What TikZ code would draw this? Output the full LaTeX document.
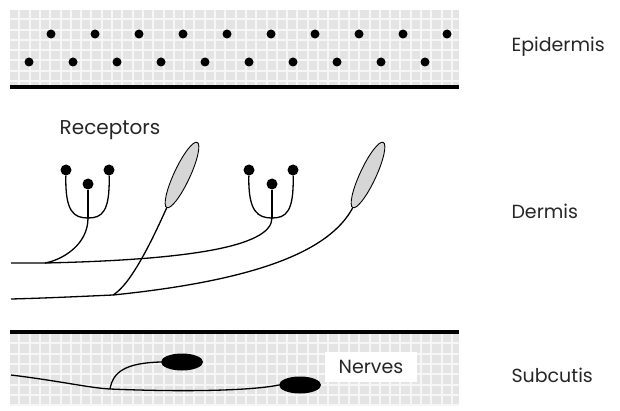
\documentclass[tikz,border=0pt]{standalone}
\usepackage{fontspec}
\setmainfont{Poppins}
\usetikzlibrary{shapes.geometric}

\definecolor{cellgray}{HTML}{E4E4E4}
\definecolor{gridline}{HTML}{F6F6F6}
\definecolor{bulbgray}{HTML}{D6D6D6}
\definecolor{ink}{HTML}{262626}

\tikzset{
  label text/.style={font=\fontsize{19}{22}\selectfont, text=ink},
  layer/.style={label text, anchor=west},
  granule/.style={circle, fill=black, inner sep=0pt, minimum size=9pt},
  ending/.style={circle, fill=black, inner sep=0pt, minimum size=11pt},
  bulb/.style={ellipse, draw, line width=0.9pt, fill=bulbgray, inner sep=0pt,
    minimum width=72pt, minimum height=16pt, rotate=65},
  ganglion/.style={ellipse, fill=black, inner sep=0pt, minimum width=42pt, minimum height=17pt},
  fibre/.style={line width=1.3pt},
  border/.style={line width=3.5pt}
}

\begin{document}
\begin{tikzpicture}[x=1pt, y=1pt]
  \useasboundingbox (0,0) rectangle (620,410);

  % checkered bands
  \foreach \ylo/\yhi in {325/400, 4/76} {
    \begin{scope}
      \clip (10,\ylo) rectangle (459,\yhi);
      \fill[cellgray] (10,\ylo) rectangle (459,\yhi);
      \foreach \k in {0,...,44}
        \draw[gridline, line width=2pt] (19.3+10.3*\k,\ylo) -- (19.3+10.3*\k,\yhi);
      \foreach \k in {0,...,8}
        \draw[gridline, line width=2pt] (10,\yhi-9.3-10.3*\k) -- (459,\yhi-9.3-10.3*\k);
    \end{scope}
  }
  \draw[border] (10,323) -- (459,323);
  \draw[border] (10,78) -- (459,78);

  % epidermis granules
  \foreach \k in {0,...,9} {
    \node[granule] (up\k) at (51+44*\k,376) {};
    \node[granule] (lo\k) at (29+44*\k,348) {};
  }

  \node[label text, font=\fontsize{20}{24}\selectfont] (receptors) at (110,280) {Receptors};

  % free nerve endings
  \node[ending] (a1) at (66,240) {};
  \node[ending] (a2) at (88,226) {};
  \node[ending] (a3) at (109,240) {};
  \coordinate (afoot) at (88,192);
  \node[ending] (b1) at (249,240) {};
  \node[ending] (b2) at (272,226) {};
  \node[ending] (b3) at (293,240) {};
  \coordinate (bfoot) at (272,192);

  % lamellar corpuscles
  \node[bulb] (pac1) at (182,235) {};
  \node[bulb] (pac2) at (368,235) {};

  \coordinate (in1) at (11,147);
  \coordinate (join1) at (45,147);
  \coordinate (in2) at (11,111);
  \coordinate (join2) at (113,115);

  \begin{scope}[fibre]
    \draw (a1) .. controls (65,198) and (74,192) .. (afoot)
          .. controls (102,192) and (110,198) .. (a3);
    \draw (a2) -- (afoot);
    \draw (b1) .. controls (248,198) and (258,192) .. (bfoot)
          .. controls (286,192) and (294,198) .. (b3);
    \draw (b2) -- (bfoot);
    \draw (afoot) .. controls (88,165) and (62,150) .. (join1);
    \draw (in1) -- (join1) .. controls (180,150) and (272,162) .. (bfoot);
    \draw (pac1.west) .. controls (150,165) and (130,125) .. (join2);
    \draw (in2) .. controls (50,112) and (90,114) .. (join2)
          .. controls (260,130) and (330,160) .. (pac2.west);
  \end{scope}

  % subcutis nerves
  \node[ganglion] (g1) at (182,48) {};
  \node[ganglion] (g2) at (300,25) {};
  \coordinate (nin) at (11,35);
  \coordinate (fork) at (110,21);
  \begin{scope}[fibre]
    \draw (nin) .. controls (60,29) and (90,22) .. (fork)
          .. controls (180,18) and (250,19) .. (g2.west);
    \draw (fork) .. controls (113,38) and (125,47) .. (g1.west);
  \end{scope}
  \node[fill=white, minimum width=92pt, minimum height=30pt, label text] (nerves) at (371,43) {Nerves};

  \node[layer] (epi) at (508,363) {Epidermis};
  \node[layer] (derm) at (508,199) {Dermis};
  \node[layer] (sub) at (508,35) {Subcutis};
\end{tikzpicture}
\end{document}
